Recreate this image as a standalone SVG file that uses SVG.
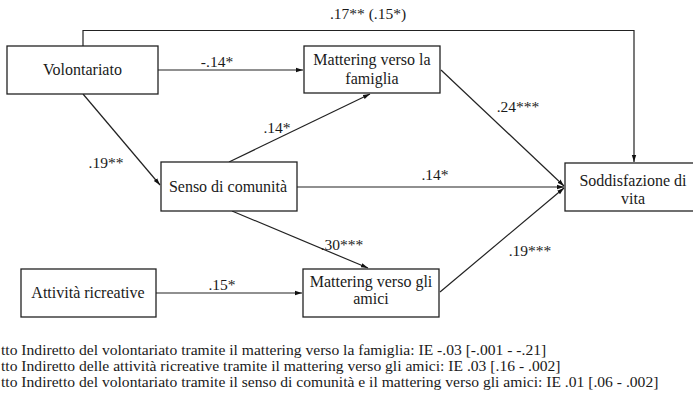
<svg xmlns="http://www.w3.org/2000/svg" width="693" height="397" viewBox="0 0 693 397">
<style>
.box{fill:#fff;stroke:#222;stroke-width:1.3}
.t{font-family:"Liberation Serif","Times New Roman",serif;font-size:16px;fill:#1a1a1a;text-anchor:middle}
.lab{font-family:"Liberation Serif","Times New Roman",serif;font-size:15.5px;fill:#1a1a1a;text-anchor:middle}
.note{font-family:"Liberation Serif","Times New Roman",serif;font-size:15.6px;fill:#1a1a1a}
.c{fill:none;stroke:#222;stroke-width:1.2}
</style>
<defs>
<marker id="ah" markerUnits="userSpaceOnUse" markerWidth="8" markerHeight="6" refX="7" refY="3" orient="auto">
<path d="M0,0.8 L7,3 L0,5.2 z" fill="#111"/>
</marker>
</defs>
<g id="connectors">
<polyline class="c" points="83,46 83,30.5 634,30.5 634,162" marker-end="url(#ah)"/>
<line class="c" x1="158" y1="70" x2="303" y2="70" marker-end="url(#ah)"/>
<line class="c" x1="83" y1="94" x2="160" y2="185" marker-end="url(#ah)"/>
<line class="c" x1="229" y1="162" x2="370" y2="94" marker-end="url(#ah)"/>
<line class="c" x1="297" y1="187" x2="564" y2="187" marker-end="url(#ah)"/>
<line class="c" x1="441" y1="70" x2="564" y2="186" marker-end="url(#ah)"/>
<line class="c" x1="232" y1="211" x2="368" y2="268" marker-end="url(#ah)"/>
<line class="c" x1="156" y1="293" x2="302" y2="293" marker-end="url(#ah)"/>
<line class="c" x1="440" y1="292" x2="564" y2="188" marker-end="url(#ah)"/>
</g>
<g id="labels">
<text class="lab" x="368" y="19">.17** (.15*)</text>
<text class="lab" x="217" y="67">-.14*</text>
<text class="lab" x="106" y="168">.19**</text>
<text class="lab" x="277" y="133">.14*</text>
<text class="lab" x="435" y="180">.14*</text>
<text class="lab" x="518" y="112">.24***</text>
<text class="lab" x="342" y="250">.30***</text>
<text class="lab" x="222" y="290">.15*</text>
<text class="lab" x="530" y="256">.19***</text>
</g>
<g id="volontariato">
<rect class="box" x="7" y="46" width="151" height="48"/>
<text class="t" x="82.5" y="75">Volontariato</text>
</g>
<g id="mattering-famiglia">
<rect class="box" x="304" y="46" width="136" height="47"/>
<text class="t" x="372" y="65">Mattering verso la</text>
<text class="t" x="372" y="84">famiglia</text>
</g>
<g id="senso-comunita">
<rect class="box" x="161" y="162" width="136" height="49"/>
<text class="t" x="228" y="192">Senso di comunità</text>
</g>
<g id="soddisfazione">
<rect class="box" x="565" y="163" width="140" height="48"/>
<text class="t" x="633" y="186">Soddisfazione di</text>
<text class="t" x="633" y="204">vita</text>
</g>
<g id="attivita-ricreative">
<rect class="box" x="21" y="269" width="135" height="48"/>
<text class="t" x="88" y="298">Attività ricreative</text>
</g>
<g id="mattering-amici">
<rect class="box" x="303" y="269" width="136" height="48"/>
<text class="t" x="371" y="287">Mattering verso gli</text>
<text class="t" x="371" y="304">amici</text>
</g>
<g id="notes">
<text class="note" x="1" y="355">tto Indiretto del volontariato tramite il mattering verso la famiglia: IE -.03 [-.001 - -.21]</text>
<text class="note" x="1" y="371">tto Indiretto delle attività ricreative tramite il mattering verso gli amici: IE .03 [.16 - .002]</text>
<text class="note" x="1" y="387">tto Indiretto del volontariato tramite il senso di comunità e il mattering verso gli amici: IE .01 [.06 - .002]</text>
</g>
</svg>
